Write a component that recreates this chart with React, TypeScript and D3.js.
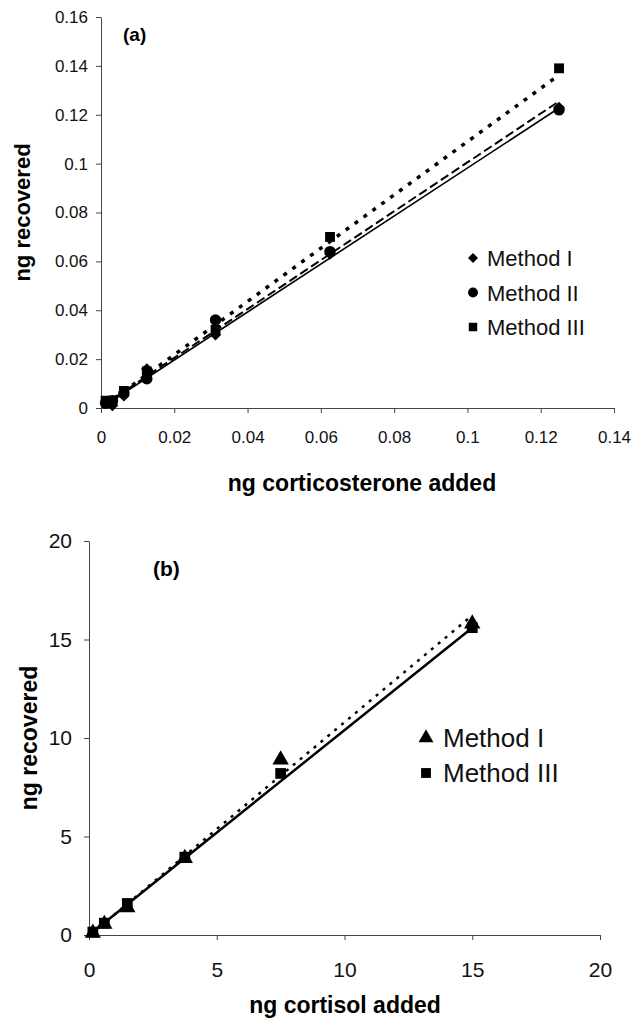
import * as d3 from 'd3';
import React, {useEffect, useRef} from "react";

const WIDTH = 639;
const HEIGHT = 1018;
const FONT = '"Liberation Sans", Arial, sans-serif';

// panel (a): corticosterone
const xCort = [0.00125, 0.003125, 0.00625, 0.0125, 0.03125, 0.0625, 0.125];
const methodIa = [0.002, 0.001, 0.005, 0.016, 0.030, 0.063, 0.123];
const methodIIa = [0.002, 0.003, 0.006, 0.012, 0.036, 0.064, 0.122];
const methodIIIa = [0.003, 0.003, 0.007, 0.015, 0.032, 0.070, 0.139];
// trend lines: [slope, intercept]
const fitIa = [0.982, 0.0];
const fitIIa = [1.0, 0.0005];
const fitIIIa = [1.09, 0.0];
const xTicksA = [0, 0.02, 0.04, 0.06, 0.08, 0.1, 0.12, 0.14];
const yTicksA = [0, 0.02, 0.04, 0.06, 0.08, 0.1, 0.12, 0.14, 0.16];

// panel (b): cortisol
const xCortisol = [0.15, 0.6, 1.5, 3.75, 7.5, 15];
const methodIb = [0.1, 0.55, 1.4, 3.9, 8.9, 15.8];
const methodIIIb = [0.15, 0.6, 1.6, 3.95, 8.2, 15.6];
const fitIb = [1.085, -0.05];
const fitIIIb = [1.04, 0.0];
const xTicksB = [0, 5, 10, 15, 20];
const yTicksB = [0, 5, 10, 15, 20];

const fmt = (d: number) => (d === 0 ? "0" : String(+d.toFixed(2)));

export default function App() {
    const ref = useRef<SVGSVGElement>(null);

    useEffect(() => {
        const svg = d3.select(ref.current);
        svg.selectAll('*').remove();

        const drawAxes = (g: any, x: any, y: any, xt: number[], yt: number[], fs: number, xpad: number, ypad: number) => {
            const xa = g.append('g')
                .attr('transform', `translate(0,${y.range()[0]})`)
                .call(d3.axisBottom(x).tickValues(xt).tickFormat(fmt as any).tickSize(5).tickSizeOuter(0).tickPadding(xpad));
            const ya = g.append('g')
                .attr('transform', `translate(${x.range()[0]},0)`)
                .call(d3.axisLeft(y).tickValues(yt).tickFormat(fmt as any).tickSize(5).tickSizeOuter(0).tickPadding(ypad));
            [xa, ya].forEach(a => {
                a.select('.domain').attr('stroke', '#444').attr('stroke-width', 1);
                a.selectAll('line').attr('stroke', '#444');
                a.selectAll('text').attr('font-family', FONT).attr('font-size', fs).attr('fill', '#111');
            });
        };

        const marker = (g: any, type: string, cx: number, cy: number, s: number) => {
            if (type === 'circle') {
                g.append('circle').attr('cx', cx).attr('cy', cy).attr('r', s * 0.52).attr('fill', '#000');
            } else if (type === 'diamond') {
                g.append('path')
                    .attr('d', d3.symbol().type(d3.symbolSquare).size(s * s * 0.55)())
                    .attr('transform', `translate(${cx},${cy}) rotate(45)`)
                    .attr('fill', '#000');
            } else {
                const sym = type === 'square' ? d3.symbolSquare : d3.symbolTriangle;
                g.append('path')
                    .attr('d', d3.symbol().type(sym).size(s * s * 0.8)())
                    .attr('transform', `translate(${cx},${cy})`)
                    .attr('fill', '#000');
            }
        };

        const fitLine = (g: any, x: any, y: any, xs: number[], fit: number[], dash: string, w: number) => {
            const x0 = d3.min(xs) as number;
            const x1 = d3.max(xs) as number;
            const line = d3.line<number>().x(d => x(d)).y(d => y(fit[0] * d + fit[1]));
            g.append('path')
                .attr('d', line([x0, x1]))
                .attr('fill', 'none')
                .attr('stroke', '#000')
                .attr('stroke-width', w)
                .attr('stroke-dasharray', dash);
        };

        // ---- panel (a)
        const xA = d3.scaleLinear().domain([0, 0.14]).range([101, 614]);
        const yA = d3.scaleLinear().domain([0, 0.16]).range([408, 17]);
        const gA = svg.append('g');
        drawAxes(gA, xA, yA, xTicksA, yTicksA, 17, 18, 8);

        fitLine(gA, xA, yA, xCort, fitIa, null as any, 1.6);
        fitLine(gA, xA, yA, xCort, fitIIa, '9,4', 2);
        fitLine(gA, xA, yA, xCort, fitIIIa, '4,7', 3.5);

        const seriesA: [number[], string][] = [[methodIa, 'diamond'], [methodIIa, 'circle'], [methodIIIa, 'square']];
        seriesA.forEach(([vals, type]) => {
            vals.forEach((v, i) => marker(gA, type, xA(xCort[i]), yA(v), 11));
        });

        const legA = ['Method I', 'Method II', 'Method III'];
        legA.forEach((t, i) => {
            const ly = 258 + i * 34.5;
            marker(gA, seriesA[i][1], 473, ly, 9.5);
            gA.append('text').attr('x', 487).attr('y', ly + 8).text(t)
                .attr('font-family', FONT).attr('font-size', 22).attr('fill', '#111');
        });

        gA.append('text').attr('x', 123).attr('y', 41).text('(a)')
            .attr('font-family', FONT).attr('font-size', 19).attr('font-weight', 'bold');
        gA.append('text').attr('x', 362).attr('y', 491).attr('text-anchor', 'middle')
            .text('ng corticosterone added')
            .attr('font-family', FONT).attr('font-size', 23).attr('font-weight', 'bold');
        gA.append('text').attr('transform', `translate(30,${(17 + 408) / 2}) rotate(-90)`)
            .attr('text-anchor', 'middle').text('ng recovered')
            .attr('font-family', FONT).attr('font-size', 22).attr('font-weight', 'bold');

        // ---- panel (b)
        const xB = d3.scaleLinear().domain([0, 20]).range([89, 600]);
        const yB = d3.scaleLinear().domain([0, 20]).range([935, 541]);
        const gB = svg.append('g');
        drawAxes(gB, xB, yB, xTicksB, yTicksB, 21, 22, 12);

        fitLine(gB, xB, yB, xCortisol, fitIIIb, null as any, 2.5);
        fitLine(gB, xB, yB, xCortisol, fitIb, '3,6', 2.5);

        const seriesB: [number[], string][] = [[methodIb, 'triangle'], [methodIIIb, 'square']];
        seriesB.forEach(([vals, type]) => {
            vals.forEach((v, i) => marker(gB, type, xB(xCortisol[i]), yB(v), 12));
        });

        const legB = ['Method I', 'Method III'];
        legB.forEach((t, i) => {
            const ly = 738 + i * 35;
            marker(gB, seriesB[i][1], 426, ly, 11);
            gB.append('text').attr('x', 443).attr('y', ly + 9).text(t)
                .attr('font-family', FONT).attr('font-size', 26).attr('fill', '#111');
        });

        gB.append('text').attr('x', 153).attr('y', 576).text('(b)')
            .attr('font-family', FONT).attr('font-size', 21).attr('font-weight', 'bold');
        gB.append('text').attr('x', 345).attr('y', 1013).attr('text-anchor', 'middle')
            .text('ng cortisol added')
            .attr('font-family', FONT).attr('font-size', 23).attr('font-weight', 'bold');
        gB.append('text').attr('transform', `translate(37,${(541 + 935) / 2}) rotate(-90)`)
            .attr('text-anchor', 'middle').text('ng recovered')
            .attr('font-family', FONT).attr('font-size', 23).attr('font-weight', 'bold');
    }, []);

    return (
        <svg ref={ref} width={WIDTH} height={HEIGHT}
             style={{position: 'absolute', left: 0, top: 0, background: '#fff'}}/>
    );
}
